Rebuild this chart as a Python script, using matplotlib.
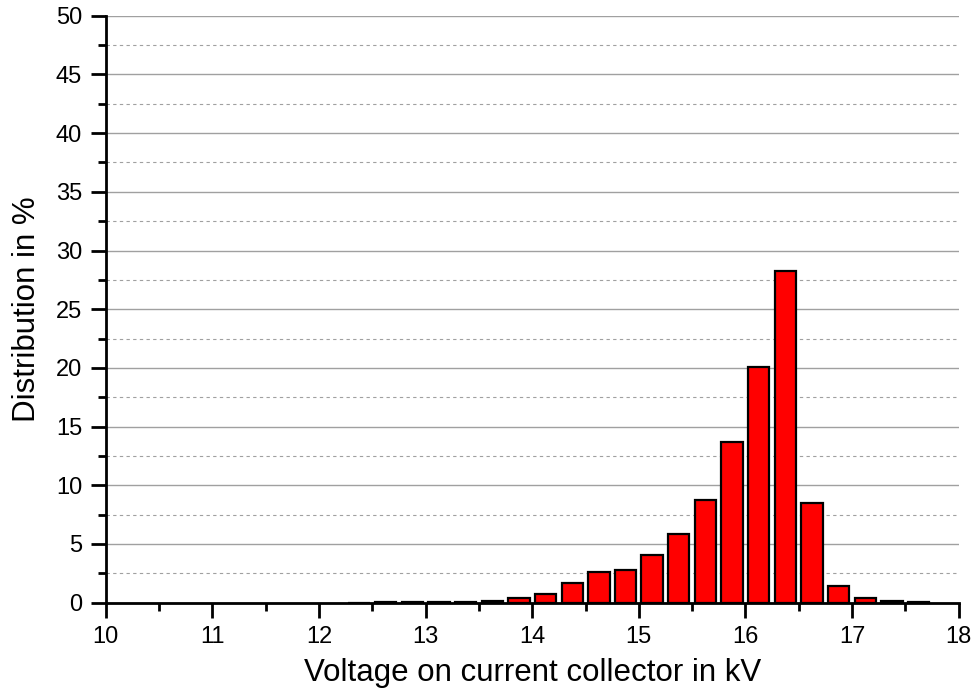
import matplotlib
matplotlib.use("Agg")
import matplotlib.pyplot as plt
from matplotlib.ticker import MultipleLocator

plt.rcParams['font.family'] = ['Liberation Sans', 'DejaVu Sans']

voltage = [12.375, 12.625, 12.875, 13.125, 13.375, 13.625, 13.875, 14.125,
           14.375, 14.625, 14.875, 15.125, 15.375, 15.625, 15.875, 16.125,
           16.375, 16.625, 16.875, 17.125, 17.375, 17.625]
distribution = [0.01, 0.04, 0.09, 0.03, 0.07, 0.12, 0.37, 0.71,
                1.65, 2.64, 2.76, 4.06, 5.88, 8.72, 13.7, 20.08,
                28.28, 8.5, 1.45, 0.43, 0.12, 0.05]

fig = plt.figure(figsize=(9.74, 6.94), dpi=100)
ax = fig.add_axes([105.7/974, 1 - 602.7/694, (958.7-105.7)/974, (602.7-15.7)/694])

ax.bar(voltage, distribution, width=0.2, color='#ff0000', edgecolor='black',
       linewidth=1.6, zorder=3)

ax.set_xlim(10, 18)
ax.set_ylim(0, 50)
ax.xaxis.set_major_locator(MultipleLocator(1))
ax.xaxis.set_minor_locator(MultipleLocator(0.5))
ax.yaxis.set_major_locator(MultipleLocator(5))
ax.yaxis.set_minor_locator(MultipleLocator(2.5))

ax.grid(True, which='major', axis='y', color='#a0a0a0', linewidth=1.0, zorder=0)
ax.grid(True, which='minor', axis='y', color='#a0a0a0', linewidth=0.8,
        linestyle=(0, (3, 3)), zorder=0)

for s in ['top', 'right']:
    ax.spines[s].set_visible(False)
for s in ['left', 'bottom']:
    ax.spines[s].set_linewidth(2)
    ax.spines[s].set_zorder(4)

ax.tick_params(which='major', direction='out', length=11, width=2, labelsize=17, pad=6)
ax.tick_params(which='minor', direction='out', length=6, width=2)

ax.set_xlabel('Voltage on current collector in kV', fontsize=22.5, labelpad=7)
ax.set_ylabel('Distribution in %', fontsize=22.5, labelpad=10)

fig.savefig('out.png', dpi=100)
